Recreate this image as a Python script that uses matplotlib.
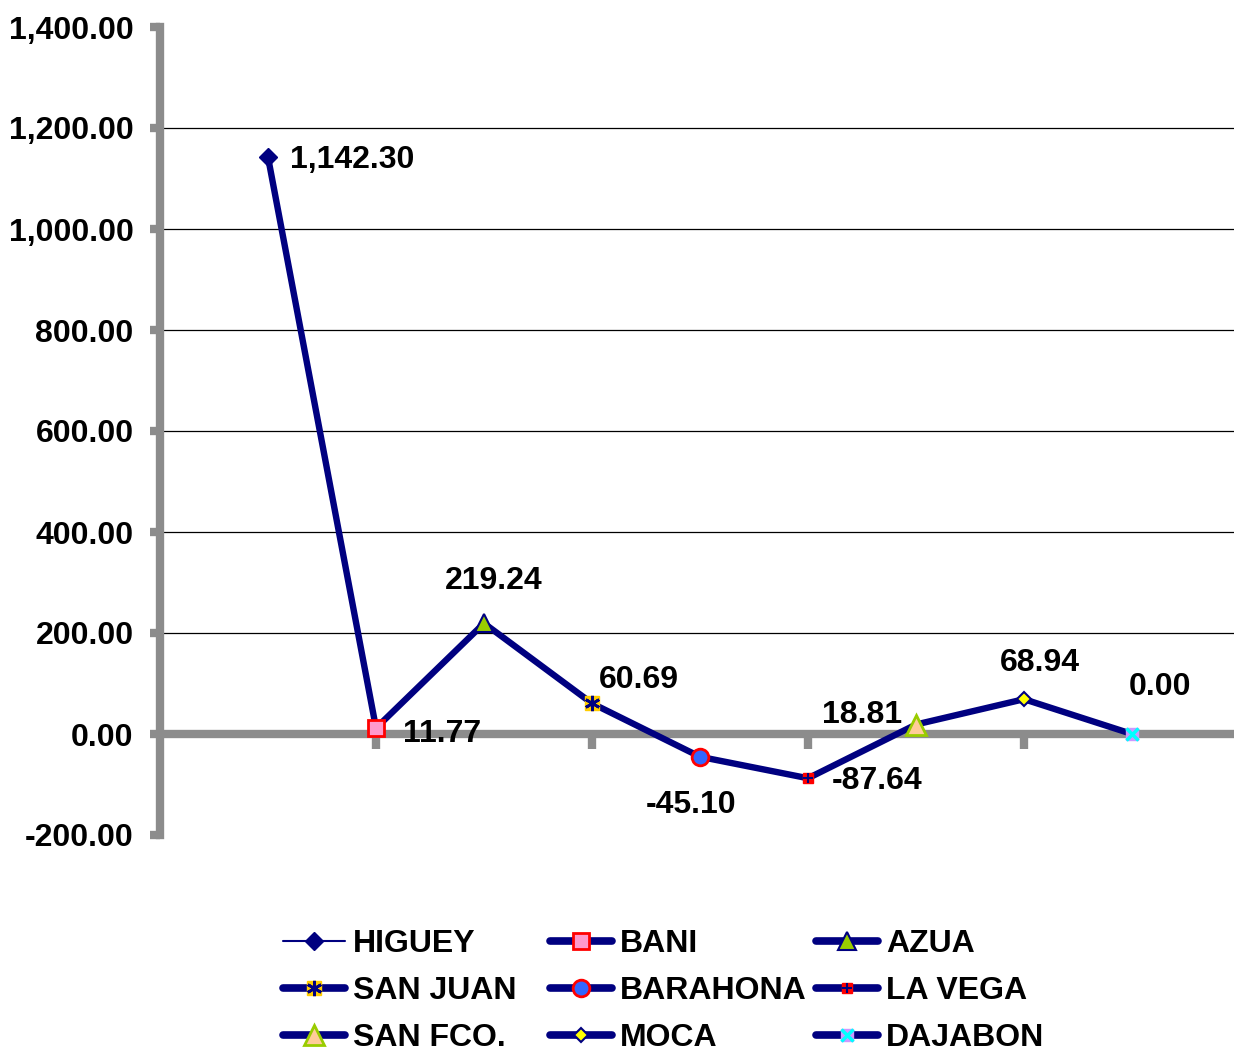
import matplotlib.pyplot as plt
from matplotlib.lines import Line2D
from matplotlib.legend_handler import HandlerTuple

plt.rcParams['font.family'] = ['Liberation Sans', 'DejaVu Sans']
plt.rcParams['font.weight'] = 'bold'

# datos
oficinas = ["HIGUEY", "BANI", "AZUA", "SAN JUAN", "BARAHONA", "LA VEGA", "SAN FCO.", "MOCA", "DAJABON"]
valores = [1142.30, 11.77, 219.24, 60.69, -45.10, -87.64, 18.81, 68.94, 0.00]
etiquetas = ["1,142.30", "11.77", "219.24", "60.69", "-45.10", "-87.64", "18.81", "68.94", "0.00"]
yticks = [-200, 0, 200, 400, 600, 800, 1000, 1200, 1400]

NAVY = '#000080'
GRIS = '#8c8c8c'
FS = 23

fig = plt.figure(figsize=(12.34, 10.5), dpi=100)
ax = fig.add_axes([160/1234, 1-835/1050, 1-160/1234, (835-27)/1050])

x = list(range(len(valores)))
ax.plot(x, valores, color=NAVY, lw=4.6, zorder=3, solid_joinstyle='round')

# marcadores (uno por serie)
estilos = [
    [dict(marker='D', ms=9, mfc=NAVY, mec=NAVY)],
    [dict(marker='s', ms=12, mfc='#ff99cc', mec='#ff0000', mew=2)],
    [dict(marker='^', ms=13, mfc='#99cc00', mec=NAVY, mew=1.5)],
    [dict(marker='s', ms=10, mfc='#ffcc00', mec='#ffcc00'), dict(marker=(6, 2, 0), ms=11, mec=NAVY, mew=2)],
    [dict(marker='o', ms=12, mfc='#3366ff', mec='#ff0000', mew=2)],
    [dict(marker='s', ms=7, mfc='#ff0000', mec='#ff0000'), dict(marker='+', ms=7, mec=NAVY, mew=1.5)],
    [dict(marker='^', ms=14, mfc='#ffcc99', mec='#99cc00', mew=2)],
    [dict(marker='D', ms=7, mfc='#ffff00', mec=NAVY, mew=1.5)],
    [dict(marker='s', ms=9, mfc='#cc99ff', mec='#cc99ff'), dict(marker='x', ms=9, mec='#00ffff', mew=2.5)],
]
handles = []
for i, (v, est) in enumerate(zip(valores, estilos)):
    partes = []
    lw = 1.5 if i == 0 else 5.5
    for j, e in enumerate(est):
        ax.plot([i], [v], ls='none', zorder=4 + j, **e)
        if j == 0:
            partes.append(Line2D([], [], color=NAVY, lw=lw, solid_capstyle='round', **e))
        else:
            partes.append(Line2D([], [], ls='none', **e))
    handles.append(tuple(partes))

# etiquetas de datos (desplazamiento en px)
desp = [(22, -3, 'left'), (27, -6, 'left'), (10, 42, 'center'), (7, 23, 'left'),
        (-9, -48, 'center'), (24, -3, 'left'), (-14, 10, 'right'), (16, 36, 'center'),
        (28, 47, 'center')]
for i, (v, t) in enumerate(zip(valores, etiquetas)):
    dx, dy, ha = desp[i]
    ax.annotate(t, (i, v), xytext=(dx*0.72, dy*0.72), textcoords='offset points',
                ha=ha, va='center', fontsize=FS, fontweight='bold', zorder=6)

ax.set_xlim(-1, 8.944)
ax.set_ylim(-200, 1400)
ax.set_yticks(yticks)
ax.set_yticklabels([f"{t:,.2f}" for t in yticks])
for y in yticks[2:-1]:
    ax.axhline(y, color='black', lw=0.9, zorder=1)
ax.axhline(0, color=GRIS, lw=6, zorder=2)

ax.set_xticks([1, 3, 5, 7])
ax.set_xticklabels([])
for s in ['top', 'right']:
    ax.spines[s].set_visible(False)
ax.spines['left'].set_color(GRIS)
ax.spines['left'].set_linewidth(6)
ax.spines['left'].set_zorder(2)
ax.tick_params(axis='y', length=7, width=6, color=GRIS, pad=12, labelsize=FS)
ax.tick_params(axis='x', length=11, width=6, color=GRIS, direction='out')
# ticks del eje x en y=0
ax.spines['bottom'].set_position(('data', 0))
ax.spines['bottom'].set_visible(False)

# leyenda en tres columnas
cols = [[0, 3, 6], [1, 4, 7], [2, 5, 8]]
xs = [283, 550, 816]
for c, xpx in zip(cols, xs):
    fig.legend([handles[k] for k in c], [oficinas[k] for k in c],
               handler_map={tuple: HandlerTuple(ndivide=1, pad=0)},
               loc='upper left', bbox_to_anchor=(xpx/1234, 1-929/1050),
               frameon=False, borderpad=0, borderaxespad=0, fontsize=FS,
               handlelength=1.95, handletextpad=0.25, labelspacing=0.53)

fig.savefig('out.png', dpi=100)
